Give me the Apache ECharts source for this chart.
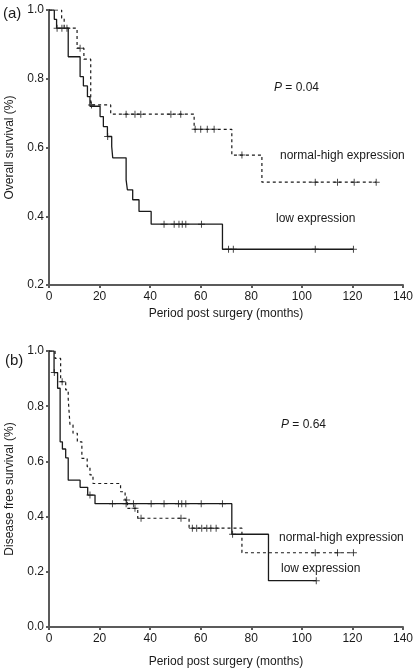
<!DOCTYPE html>
<html><head><meta charset="utf-8">
<script src="https://cdn.jsdelivr.net/npm/echarts@6/dist/echarts.min.js"></script>
<style>html,body{margin:0;padding:0;background:#fff}#c{width:414px;height:669px}</style>
</head><body><div id="c"></div>
<script>
// Panel (a): overall survival — Kaplan–Meier steps (time in months, survival fraction)
const osLowT = [0, 2.1, 3.0, 7.6, 12.3, 13.6, 15.2, 16.2, 20.2, 21.5, 23.1, 24.8, 25.2, 30.5, 31.0, 33.1, 35.6, 40.4, 68.6, 120.4];
const osLowS = [1.0, 0.973, 0.947, 0.864, 0.806, 0.779, 0.748, 0.72, 0.69, 0.661, 0.632, 0.603, 0.57, 0.506, 0.477, 0.448, 0.414, 0.377, 0.304, 0.304];
const osLowCens = [3.2, 5.1, 7.1, 23.2, 45.5, 49.5, 51.4, 52.7, 54.1, 60.3, 71.0, 72.9, 105.3, 120.4];
const osHighT = [0, 5.0, 6.0, 11.1, 13.8, 16.5, 24.4, 57.4, 72.3, 84.2, 129.4];
const osHighS = [1.0, 0.976, 0.947, 0.889, 0.857, 0.724, 0.697, 0.653, 0.578, 0.499, 0.499];
const osHighCens = [12.3, 16.8, 30.5, 34.0, 36.3, 48.2, 52.1, 57.8, 60.0, 62.6, 65.3, 76.3, 105.3, 114.1, 120.7, 129.4];

// Panel (b): disease free survival
const dfsLowT = [0, 2.0, 3.4, 4.4, 5.3, 6.6, 7.6, 12.3, 15.3, 18.2, 72.3, 86.8, 105.7];
const dfsLowS = [1.0, 0.922, 0.865, 0.671, 0.645, 0.613, 0.532, 0.506, 0.478, 0.447, 0.336, 0.168, 0.168];
const dfsLowCens = [2.1, 16.2, 25.1, 30.5, 33.4, 40.4, 45.5, 51.2, 52.5, 54.1, 60.2, 68.6, 72.6, 105.7];
const dfsHighT = [0, 2.4, 4.6, 6.6, 7.6, 8.3, 9.5, 11.2, 13.0, 15.1, 16.2, 17.4, 28.3, 30.1, 31.0, 35.1, 55.4, 76.3, 120.4];
const dfsHighS = [1.0, 0.973, 0.889, 0.859, 0.826, 0.732, 0.702, 0.671, 0.611, 0.581, 0.551, 0.52, 0.49, 0.46, 0.43, 0.394, 0.358, 0.269, 0.269];
const dfsHighCens = [5.2, 30.7, 34.0, 36.4, 52.2, 56.7, 58.4, 60.4, 62.4, 64.0, 66.1, 105.3, 114.1, 120.4];

const xMin = 0, xMax = 140, xStep = 20;
const yAMin = 0.2, yBMin = 0.0, yMax = 1.0, yStep = 0.2;

const FONT = 'Liberation Sans, Arial, sans-serif';
const AX = '#5b5b5b';
const INK = '#1a1a1a';
const CROSS = 'path://M3,0H4V3H7V4H4V7H3V4H0V3H3Z';

function steps(T, S) { return T.map((t, i) => [t, S[i]]); }
function survAt(T, S, t) { let v = S[0]; for (let i = 0; i < T.length; i++) { if (T[i] <= t) v = S[i]; } return v; }
function cens(T, S, C) { return C.map(t => [t, survAt(T, S, t)]); }

function xAxis(gi, gap) {
  return {
    gridIndex: gi, type: 'value', min: xMin, max: xMax, interval: xStep,
    name: 'Period post surgery (months)', nameLocation: 'middle', nameGap: gap,
    nameTextStyle: { fontFamily: FONT, fontSize: 12, color: INK },
    axisLine: { lineStyle: { color: AX, width: 2 } },
    axisTick: { show: true, length: 3, lineStyle: { color: AX, width: 2 } },
    axisLabel: { fontFamily: FONT, fontSize: 12, color: INK, margin: 6 },
    splitLine: { show: false }
  };
}
function yAxis(gi, min, name) {
  return {
    gridIndex: gi, type: 'value', min: min, max: yMax, interval: yStep,
    name: name, nameLocation: 'middle', nameGap: 33, nameRotate: 90,
    nameTextStyle: { fontFamily: FONT, fontSize: 12, color: INK },
    axisLine: { show: true, lineStyle: { color: AX, width: 2 } },
    axisTick: { show: true, length: 3, lineStyle: { color: AX, width: 2 } },
    axisLabel: { fontFamily: FONT, fontSize: 12, color: INK, margin: 5, formatter: v => v.toFixed(1) },
    splitLine: { show: false }
  };
}
function lineSeries(gi, T, S, dashed) {
  return {
    type: 'line', xAxisIndex: gi, yAxisIndex: gi, step: 'end', data: steps(T, S),
    showSymbol: false, symbol: 'none', silent: true, animation: false,
    lineStyle: { color: INK, width: dashed ? 1.2 : 1.3, type: dashed ? [3, 3] : 'solid' }
  };
}
function crossSeries(gi, T, S, C) {
  return {
    type: 'scatter', xAxisIndex: gi, yAxisIndex: gi, data: cens(T, S, C),
    symbol: CROSS, symbolSize: 7, silent: true, animation: false,
    itemStyle: { color: INK }
  };
}
function txt(left, top, text, size, rich) {
  const st = { text: text, fontFamily: FONT, fontSize: size, fill: INK };
  if (rich) st.rich = rich;
  return { type: 'text', left: left, top: top, style: st, silent: true };
}
const pRich = { i: { fontStyle: 'italic', fontFamily: FONT, fontSize: 12, fill: INK } };

const chart = echarts.init(document.getElementById('c'), null, { renderer: 'canvas' });
chart.setOption({
  animation: false,
  backgroundColor: '#fff',
  grid: [
    { left: 49, top: 10, width: 354, height: 275, containLabel: false, outerBoundsMode: 'none' },
    { left: 49, top: 351, width: 354, height: 276, containLabel: false, outerBoundsMode: 'none' }
  ],
  xAxis: [xAxis(0, 23), xAxis(1, 29)],
  yAxis: [yAxis(0, yAMin, 'Overall survival (%)'), yAxis(1, yBMin, 'Disease free survival (%)')],
  series: [
    lineSeries(0, osHighT, osHighS, true),
    lineSeries(0, osLowT, osLowS, false),
    crossSeries(0, osHighT, osHighS, osHighCens),
    crossSeries(0, osLowT, osLowS, osLowCens),
    lineSeries(1, dfsHighT, dfsHighS, true),
    lineSeries(1, dfsLowT, dfsLowS, false),
    crossSeries(1, dfsHighT, dfsHighS, dfsHighCens),
    crossSeries(1, dfsLowT, dfsLowS, dfsLowCens)
  ],
  graphic: [
    txt(3, 6, '(a)', 15),
    txt(274, 82, '{i|P} = 0.04', 12, pRich),
    txt(280, 150, 'normal-high expression', 12),
    txt(276, 213, 'low expression', 12),
    txt(5, 353, '(b)', 15),
    txt(281, 419, '{i|P} = 0.64', 12, pRich),
    txt(279, 532, 'normal-high expression', 12),
    txt(281, 563, 'low expression', 12)
  ]
});
</script></body></html>
